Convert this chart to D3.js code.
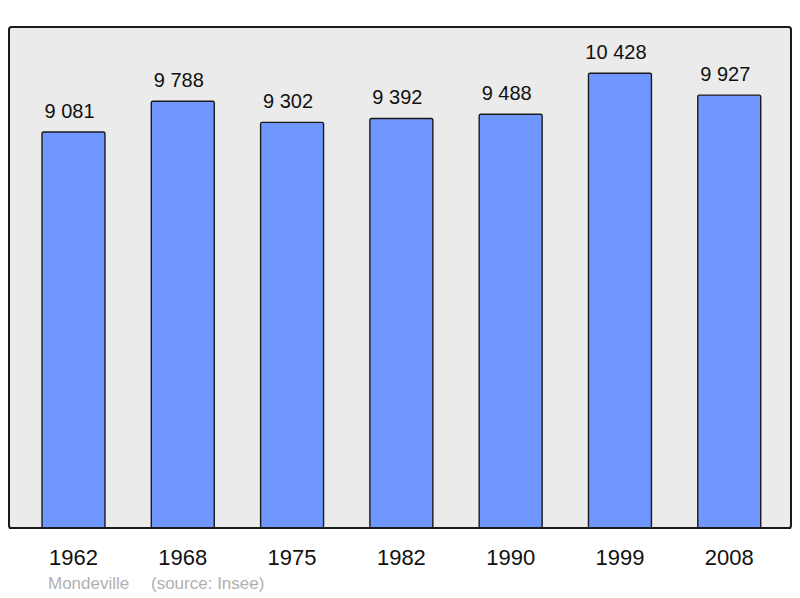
<!DOCTYPE html>
<html><head><meta charset="utf-8">
<script src="https://cdn.jsdelivr.net/npm/d3@7"></script>
<style>body{margin:0;background:#fff}svg{display:block}</style>
</head><body>
<script>
const years = ["1962","1968","1975","1982","1990","1999","2008"];
const population = [9081, 9788, 9302, 9392, 9488, 10428, 9927];
const commune = "Mondeville";
const source = "(source: Insee)";

const W = 800, H = 598;
const svg = d3.select("body").append("svg").attr("width", W).attr("height", H);
const font = "'Liberation Sans', Arial, sans-serif";

svg.append("rect").attr("x", 9).attr("y", 27).attr("width", 782).attr("height", 501)
  .attr("rx", 2.5).attr("fill", "#ebebeb").attr("stroke", "#1a1a1a").attr("stroke-width", 2);

const x = d3.scaleBand().domain(years).range([18.85, 783.9]).paddingInner(0.424).paddingOuter(0.212);
const y = d3.scaleLinear().domain([0, 11490]).range([528, 27]);

const fmt = v => d3.format(",")(v).replace(/,/g, " ");

svg.selectAll("rect.bar").data(population).join("rect").attr("class", "bar")
  .attr("x", (d, i) => x(years[i])).attr("width", x.bandwidth())
  .attr("y", d => y(d)).attr("height", d => y(0) - y(d))
  .attr("rx", 1.5)
  .attr("fill", "#7096ff").attr("stroke", "#1a1a1a").attr("stroke-width", 1.4);

svg.append("line").attr("x1", 9).attr("x2", 791).attr("y1", 528).attr("y2", 528)
  .attr("stroke", "#1a1a1a").attr("stroke-width", 2);

svg.selectAll("text.val").data(population).join("text").attr("class", "val")
  .attr("x", (d, i) => x(years[i]) + x.bandwidth() / 2 - 4)
  .attr("y", d => y(d) - 14)
  .attr("text-anchor", "middle").attr("font-family", font).attr("font-size", 20)
  .attr("fill", "#111").text(fmt);

const xAxis = d3.axisBottom(x).tickSize(0).tickPadding(0);
const ax = svg.append("g").attr("transform", "translate(0,565)").call(xAxis);
ax.select(".domain").remove();
ax.selectAll("text").attr("font-family", font).attr("font-size", 22).attr("fill", "#111")
  .attr("dy", 0).attr("y", 0);

const foot = svg.append("text").attr("y", 589).attr("font-family", font).attr("font-size", 17)
  .attr("fill", "#b0b0b0");
foot.append("tspan").attr("x", 48).text(commune);
foot.append("tspan").attr("x", 151).text(source);
</script>
</body></html>
